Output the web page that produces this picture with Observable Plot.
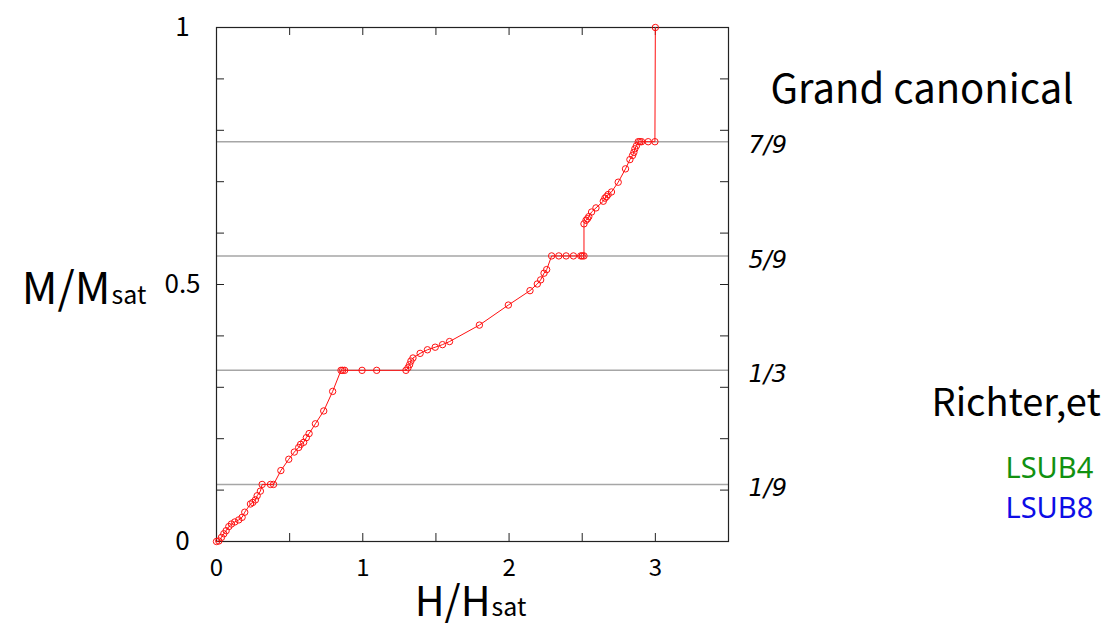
<!DOCTYPE html>
<html>
<head>
<meta charset="utf-8">
<script src="https://cdn.jsdelivr.net/npm/d3@7"></script>
<script src="https://cdn.jsdelivr.net/npm/@observablehq/plot@0.6"></script>
<style>
  html, body { margin: 0; padding: 0; background: #fff; overflow: hidden; }
</style>
</head>
<body>
<div id="chart"></div>
<script>
// Magnetization curve
const hVals = [0.00, 0.016, 0.034, 0.05, 0.066, 0.084, 0.102, 0.125, 0.152, 0.175, 0.193, 0.232, 0.248, 0.266, 0.278, 0.30,
  0.312, 0.369, 0.39, 0.44, 0.494, 0.532, 0.562, 0.575, 0.596, 0.614, 0.633, 0.676, 0.733, 0.794,
  0.851, 0.862, 0.876, 0.995, 1.095, 1.295, 1.309, 1.32, 1.329, 1.343, 1.392, 1.442, 1.495, 1.545, 1.593,
  1.797, 1.995, 2.143, 2.193, 2.216, 2.239, 2.257,
  2.291, 2.34, 2.39, 2.44, 2.49, 2.50, 2.512,
  2.512, 2.526, 2.536, 2.545, 2.564, 2.594, 2.644, 2.655, 2.666, 2.677, 2.70, 2.746, 2.796, 2.826, 2.844, 2.853, 2.86, 2.871,
  2.883, 2.894, 2.906, 2.951, 2.997, 3.0];
const mVals = [0.000, 0.001, 0.008, 0.015, 0.021, 0.029, 0.034, 0.038, 0.042, 0.047, 0.057, 0.073, 0.076, 0.081, 0.089, 0.098,
  0.111, 0.111, 0.111, 0.138, 0.160, 0.174, 0.183, 0.189, 0.193, 0.202, 0.210, 0.229, 0.254, 0.292,
  0.333, 0.333, 0.333, 0.333, 0.333, 0.333, 0.338, 0.344, 0.351, 0.357, 0.366, 0.373, 0.378, 0.383, 0.389,
  0.421, 0.460, 0.488, 0.501, 0.509, 0.522, 0.529,
  0.5556, 0.5556, 0.5556, 0.5556, 0.5556, 0.5556, 0.5556,
  0.618, 0.625, 0.628, 0.632, 0.641, 0.649, 0.662, 0.668, 0.671, 0.675, 0.680, 0.699, 0.725, 0.743, 0.751, 0.757, 0.764, 0.770,
  0.7778, 0.7778, 0.7778, 0.7778, 0.7778, 1.0];

// Plateau reference lines
const fracValues = [1/9, 1/3, 5/9, 7/9];
const fracLabels = ["1/9", "1/3", "5/9", "7/9"];

// Ticks
const xTickLabels = [0, 1, 2, 3];
const yTickLabels = [0, 0.5, 1];
const xMinorTicks = [0, 0.5, 1, 1.5, 2, 2.5, 3, 3.5];
const yMinorTicks = [0, 0.1, 0.2, 0.3, 0.4, 0.5, 0.6, 0.7, 0.8, 0.9, 1];

// Texts
const titleText = "Grand canonical";
const refText = "Richter,et";
const seriesNames = ["LSUB4", "LSUB8"];
const seriesColors = ["#119111", "#0d0de6"];

const data = hVals.map((h, i) => ({h, m: mVals[i]}));

const W = 1104, H = 626;
const mL = 216, mR = 376, mT = 27, mB = 85;
const fw = W - mL - mR, fh = H - mT - mB;
const sans = "'Noto Sans CJK JP', 'Noto Sans', sans-serif";

const chart = Plot.plot({
  width: W, height: H,
  marginLeft: mL, marginRight: mR, marginTop: mT, marginBottom: mB,
  x: {domain: [0, 3.5], axis: null, label: null},
  y: {domain: [0, 1], axis: null, label: null},
  style: {fontFamily: sans, background: "#fff", overflow: "visible"},
  marks: [
    Plot.ruleY(fracValues, {stroke: "#a6a6a6", strokeWidth: 1.5}),
    // inward minor ticks (left/right/bottom/top)
    Plot.tickY(yMinorTicks, {y: d => d, insetRight: fw - 8, stroke: "#222"}),
    Plot.tickY(yMinorTicks, {y: d => d, insetLeft: fw - 8, stroke: "#222"}),
    Plot.tickX(xMinorTicks, {x: d => d, insetTop: fh - 8, stroke: "#222"}),
    Plot.tickX(xMinorTicks, {x: d => d, insetBottom: fh - 8, stroke: "#222"}),
    Plot.frame({stroke: "#222", strokeWidth: 1.2}),
    Plot.axisX(xTickLabels, {tickSize: 0, tickPadding: 17, fontSize: 24, fill: "#000", label: null, tickFormat: d => String(d)}),
    // y tick labels, centred like the reference
    Plot.text(yTickLabels, {y: d => d, text: d => String(d), frameAnchor: "left", dx: -34, textAnchor: "middle", fontSize: 26, fill: "#000"}),
    Plot.line(data, {x: "h", y: "m", stroke: "#ff1010", strokeWidth: 1}),
    Plot.dot(data, {x: "h", y: "m", r: 3.2, stroke: "#ff1010", fill: "none", strokeWidth: 1}),
    // fraction labels to the right of the frame
    Plot.text(fracValues, {y: d => d, text: (d, i) => fracLabels[i], frameAnchor: "right", dx: 20, dy: 4,
      textAnchor: "start", fontFamily: "'DejaVu Sans', sans-serif", fontStyle: "italic", fontSize: 24, fill: "#000"}),
    // axis labels
    Plot.text(["M/M"], {frameAnchor: "top-left", dx: 110 - mL, dy: 303 - mT, textAnchor: "end", lineAnchor: "bottom", fontSize: 44, fill: "#000"}),
    Plot.text(["sat"], {frameAnchor: "top-left", dx: 111 - mL, dy: 303 - mT, textAnchor: "start", lineAnchor: "bottom", fontSize: 25, fill: "#000"}),
    Plot.text(["H/H"], {frameAnchor: "top-left", dx: 490 - mL, dy: 615 - mT, textAnchor: "end", lineAnchor: "bottom", fontSize: 41, fill: "#000"}),
    Plot.text(["sat"], {frameAnchor: "top-left", dx: 491 - mL, dy: 615 - mT, textAnchor: "start", lineAnchor: "bottom", fontSize: 25, fill: "#000"}),
    // annotations on the right
    Plot.text([titleText], {frameAnchor: "top-right", dx: 770 - (W - mR), dy: 102 - mT, textAnchor: "start", lineAnchor: "bottom", fontSize: 40, fill: "#000"}),
    Plot.text([refText], {frameAnchor: "top-right", dx: 931 - (W - mR), dy: 415 - mT, textAnchor: "start", lineAnchor: "bottom", fontSize: 38, fill: "#000"}),
    Plot.text([seriesNames[0]], {frameAnchor: "top-right", dx: 1005 - (W - mR), dy: 477 - mT, textAnchor: "start", lineAnchor: "bottom", fontFamily: "'Noto Sans', sans-serif", fontSize: 29, fill: seriesColors[0]}),
    Plot.text([seriesNames[1]], {frameAnchor: "top-right", dx: 1005 - (W - mR), dy: 517 - mT, textAnchor: "start", lineAnchor: "bottom", fontFamily: "'Noto Sans', sans-serif", fontSize: 29, fill: seriesColors[1]})
  ]
});
document.getElementById("chart").appendChild(chart);
</script>
</body>
</html>
